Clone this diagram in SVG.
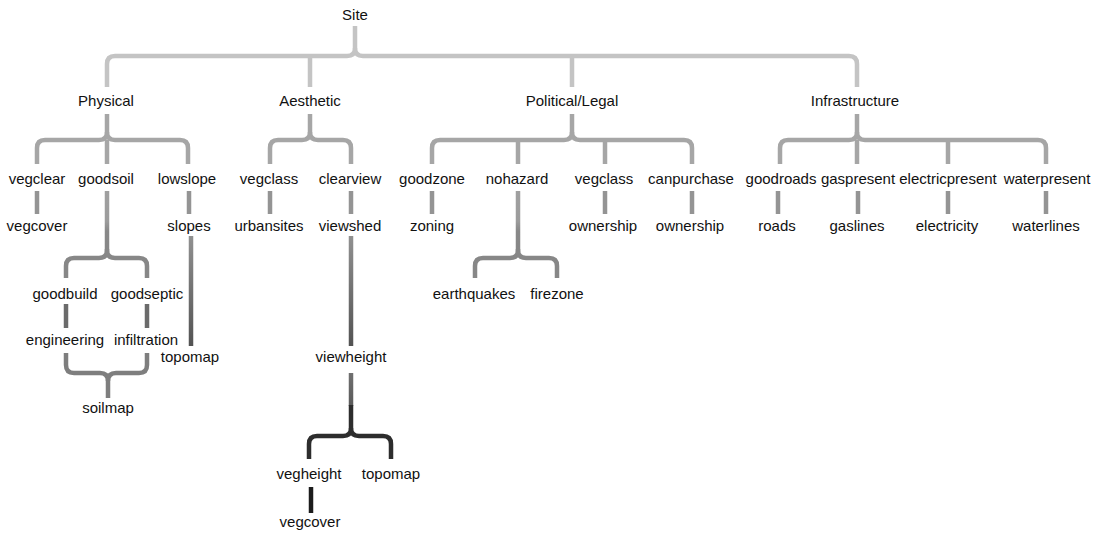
<svg xmlns="http://www.w3.org/2000/svg" width="1103" height="533" viewBox="0 0 1103 533">
  <style>
    text { font-family: "Liberation Sans", Arial, Helvetica, sans-serif; font-size: 15px; fill: #111; text-anchor: middle; }
    .ln { fill: none; stroke-width: 4.5; stroke-linecap: butt; stroke-linejoin: round; }
    .d1 { stroke: #c4c4c4; }
    .d2 { stroke: #a6a6a6; }
    .d3 { stroke: #949494; }
    .d4 { stroke: #878787; }
    .d5 { stroke: #6b6b6b; }
    .d6 { stroke: #7e7e7e; }
    .d8 { stroke: #2d2d2d; }
    .d9 { stroke: #1c1c1c; }
  </style>
  <defs>
    <linearGradient id="gLong" gradientUnits="userSpaceOnUse" x1="0" y1="236" x2="0" y2="346">
      <stop offset="0" stop-color="#909090"/>
      <stop offset="1" stop-color="#535353"/>
    </linearGradient>
    <linearGradient id="gDrop" gradientUnits="userSpaceOnUse" x1="0" y1="191" x2="0" y2="258">
      <stop offset="0" stop-color="#a0a0a0"/>
      <stop offset="0.45" stop-color="#9c9c9c"/>
      <stop offset="0.6" stop-color="#888888"/>
      <stop offset="1" stop-color="#868686"/>
    </linearGradient>
    <linearGradient id="gView" gradientUnits="userSpaceOnUse" x1="0" y1="373" x2="0" y2="405">
      <stop offset="0" stop-color="#707070"/>
      <stop offset="1" stop-color="#5a5a5a"/>
    </linearGradient>
  </defs>

  <g id="connectors">
    <!-- Site -> categories -->
    <path class="ln d1" d="M355 26 V48 Q355 56 347 56 H115 Q107 56 107 64 V87"/>
    <path class="ln d1" d="M355 48 Q355 56 363 56 H849 Q857 56 857 64 V87"/>
    <path class="ln d1" d="M310 56 V87 M572 56 V87"/>

    <!-- Physical -->
    <path class="ln d2" d="M107 114 V132 Q107 140 99 140 H45 Q37 140 37 148 V164"/>
    <path class="ln d2" d="M107 132 Q107 140 115 140 H180 Q188 140 188 148 V164"/>
    <path class="ln d2" d="M107 140 V164"/>

    <!-- Aesthetic -->
    <path class="ln d2" d="M310 114 V132 Q310 140 302 140 H278 Q270 140 270 148 V164"/>
    <path class="ln d2" d="M310 132 Q310 140 318 140 H343 Q351 140 351 148 V164"/>

    <!-- Political/Legal -->
    <path class="ln d2" d="M572 114 V132 Q572 140 564 140 H440 Q432 140 432 148 V164"/>
    <path class="ln d2" d="M572 132 Q572 140 580 140 H684 Q692 140 692 148 V164"/>
    <path class="ln d2" d="M518 140 V164 M605 140 V164"/>

    <!-- Infrastructure -->
    <path class="ln d2" d="M857 114 V132 Q857 140 849 140 H788 Q780 140 780 148 V164"/>
    <path class="ln d2" d="M857 132 Q857 140 865 140 H1038 Q1046 140 1046 148 V164"/>
    <path class="ln d2" d="M857 140 V164 M948 140 V164"/>

    <!-- single links, second tier -->
    <path class="ln d3" d="M37 191 V214 M189 191 V214 M270 191 V214 M351 191 V214 M432 191 V214 M605 191 V214 M692 191 V214 M778 191 V214 M858 191 V214 M948 191 V214 M1046 191 V214"/>

    <!-- goodsoil -> goodbuild, goodseptic -->
    <path class="ln" stroke="url(#gDrop)" d="M107 191 V250"/>
    <path class="ln d4" d="M107 249 V250 Q107 258 99 258 H74 Q66 258 66 266 V278"/>
    <path class="ln d4" d="M107 250 Q107 258 115 258 H139 Q147 258 147 266 V278"/>

    <!-- nohazard -> earthquakes, firezone -->
    <path class="ln" stroke="url(#gDrop)" d="M518 191 V250"/>
    <path class="ln d4" d="M518 249 V250 Q518 258 510 258 H483 Q475 258 475 266 V278"/>
    <path class="ln d4" d="M518 250 Q518 258 526 258 H549 Q557 258 557 266 V278"/>

    <!-- goodbuild -> engineering, goodseptic -> infiltration -->
    <path class="ln d5" d="M66 304 V328 M147 304 V328"/>

    <!-- engineering, infiltration -> soilmap -->
    <path class="ln d6" d="M66 353 V365 Q66 373 74 373 H100 Q108 373 108 381 V398"/>
    <path class="ln d6" d="M147 353 V365 Q147 373 139 373 H116 Q108 373 108 381"/>

    <!-- slopes -> topomap, viewshed -> viewheight -->
    <path class="ln" stroke="url(#gLong)" d="M191 236 V346 M351 236 V346"/>

    <!-- viewheight -> vegheight, topomap -->
    <path class="ln" stroke="url(#gView)" d="M351 373 V406"/>
    <path class="ln d8" d="M351 405 V428 Q351 436 343 436 H317 Q309 436 309 444 V459"/>
    <path class="ln d8" d="M351 428 Q351 436 359 436 H383 Q391 436 391 444 V459"/>

    <!-- vegheight -> vegcover -->
    <path class="ln d9" d="M311 487 V513"/>
  </g>

  <g id="site"><text x="355" y="20">Site</text></g>

  <g id="physical"><text x="106" y="106">Physical</text></g>
  <g id="aesthetic"><text x="310" y="106">Aesthetic</text></g>
  <g id="political-legal"><text x="572" y="106">Political/Legal</text></g>
  <g id="infrastructure"><text x="855" y="106">Infrastructure</text></g>

  <g id="vegclear"><text x="37" y="184">vegclear</text></g>
  <g id="goodsoil"><text x="106" y="184">goodsoil</text></g>
  <g id="lowslope"><text x="187" y="184">lowslope</text></g>
  <g id="vegclass-a"><text x="269" y="184">vegclass</text></g>
  <g id="clearview"><text x="350" y="184">clearview</text></g>
  <g id="goodzone"><text x="432" y="184">goodzone</text></g>
  <g id="nohazard"><text x="517" y="184">nohazard</text></g>
  <g id="vegclass-p"><text x="604" y="184">vegclass</text></g>
  <g id="canpurchase"><text x="691" y="184">canpurchase</text></g>
  <g id="goodroads"><text x="781" y="184">goodroads</text></g>
  <g id="gaspresent"><text x="858" y="184">gaspresent</text></g>
  <g id="electricpresent"><text x="948" y="184">electricpresent</text></g>
  <g id="waterpresent"><text x="1047" y="184">waterpresent</text></g>

  <g id="vegcover"><text x="37" y="231">vegcover</text></g>
  <g id="slopes"><text x="189" y="231">slopes</text></g>
  <g id="urbansites"><text x="269" y="231">urbansites</text></g>
  <g id="viewshed"><text x="350" y="231">viewshed</text></g>
  <g id="zoning"><text x="432" y="231">zoning</text></g>
  <g id="ownership-a"><text x="603" y="231">ownership</text></g>
  <g id="ownership-b"><text x="690" y="231">ownership</text></g>
  <g id="roads"><text x="777" y="231">roads</text></g>
  <g id="gaslines"><text x="857" y="231">gaslines</text></g>
  <g id="electricity"><text x="947" y="231">electricity</text></g>
  <g id="waterlines"><text x="1046" y="231">waterlines</text></g>

  <g id="goodbuild"><text x="65" y="299">goodbuild</text></g>
  <g id="goodseptic"><text x="147" y="299">goodseptic</text></g>
  <g id="earthquakes"><text x="474" y="299">earthquakes</text></g>
  <g id="firezone"><text x="557" y="299">firezone</text></g>

  <g id="engineering"><text x="65" y="345">engineering</text></g>
  <g id="infiltration"><text x="146" y="345">infiltration</text></g>

  <g id="topomap-slope"><text x="190" y="362">topomap</text></g>
  <g id="viewheight"><text x="351" y="362">viewheight</text></g>

  <g id="soilmap"><text x="108" y="413">soilmap</text></g>

  <g id="vegheight"><text x="309" y="479">vegheight</text></g>
  <g id="topomap-view"><text x="391" y="479">topomap</text></g>

  <g id="vegcover-view"><text x="310" y="527">vegcover</text></g>
</svg>
